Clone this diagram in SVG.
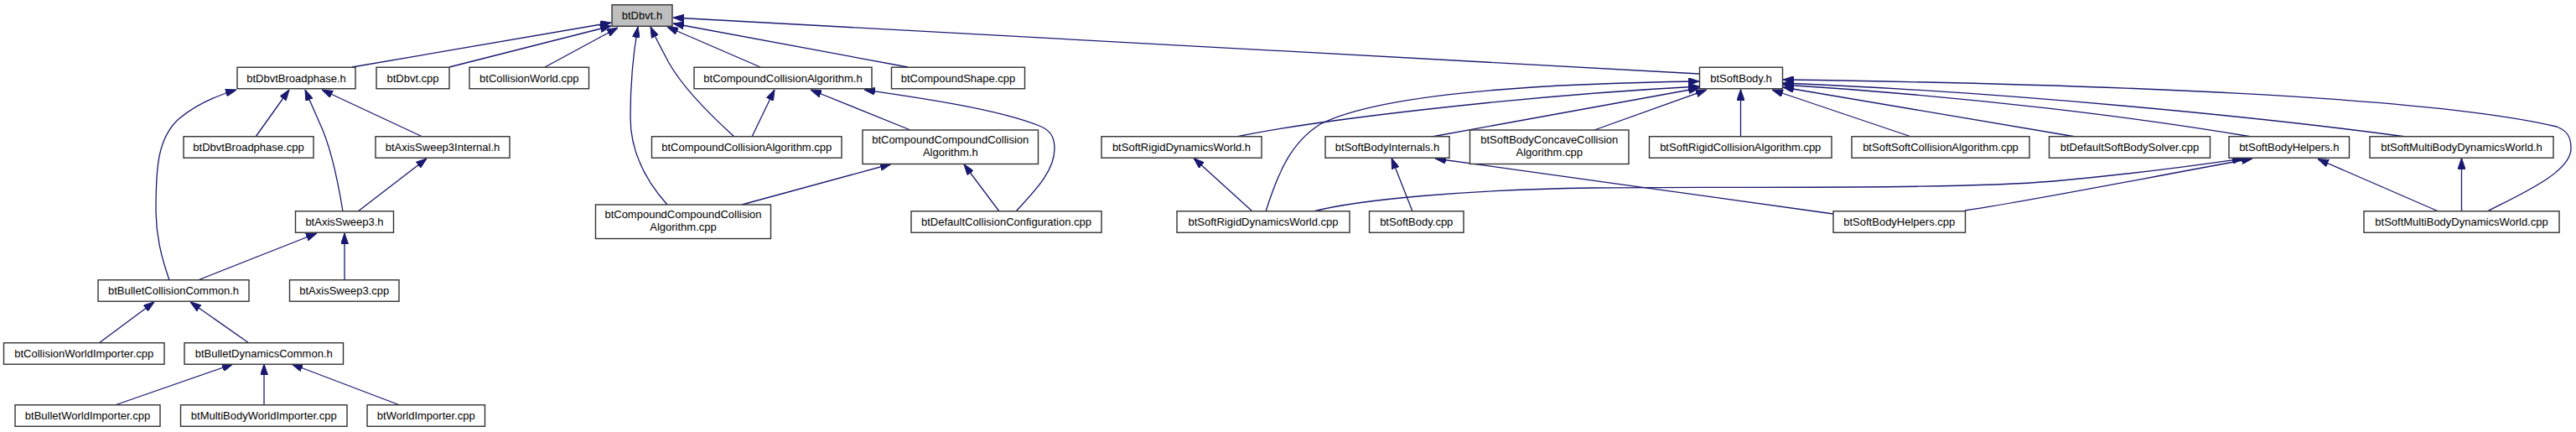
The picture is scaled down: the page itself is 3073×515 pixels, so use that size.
<svg xmlns="http://www.w3.org/2000/svg" width="3073" height="515" viewBox="0 0 3073 515">
<style>
.nd rect{fill:#ffffff;stroke:#333333;stroke-width:1.4}
.nd.root rect{fill:#bfbfbf}
.nd text{font-family:"Liberation Sans",Arial,Helvetica,sans-serif;font-size:13px;fill:#000000;text-anchor:middle}
#edges path{fill:none;stroke:#191970;stroke-width:1.3;marker-end:url(#ah)}
</style>
<defs>
<marker id="ah" markerUnits="userSpaceOnUse" markerWidth="13" markerHeight="9" refX="13" refY="4.5" orient="auto">
<path d="M0,0 L13,4.5 L0,9 z" fill="#191970" stroke="#191970" stroke-width="1"/>
</marker>
</defs>
<rect x="0" y="0" width="3073" height="515" fill="#ffffff"/>
<g id="edges">
<path d="M420,80 L729,27"/>
<path d="M536,80 L729,31"/>
<path d="M650,80 L737,33"/>
<path d="M796,244 C770,215 752,180 752,140 C752,90 756,60 761,32"/>
<path d="M876,163 C845,135 815,105 798,75 C790,60 782,45 776,32"/>
<path d="M907,80 L796,32"/>
<path d="M1083,80 L803,28"/>
<path d="M2027,88 L803,21"/>
<path d="M305,163 L345,107"/>
<path d="M409,252 C403,215 395,175 381,146 C375,132 369,119 364,107"/>
<path d="M504,163 L384,107"/>
<path d="M202,334 C192,305 186,280 186,250 C186,200 188,165 213,142 C233,125 255,115 282,107"/>
<path d="M427,252 L509,189"/>
<path d="M236,334 L378,278"/>
<path d="M411,334 L411,278"/>
<path d="M118,409 L184,360"/>
<path d="M297,409 L227,360"/>
<path d="M137,483 L278,434"/>
<path d="M315,483 L315,434"/>
<path d="M477,483 L348,434"/>
<path d="M897,163 L924,107"/>
<path d="M1086,155 L967,107"/>
<path d="M1212,252 C1232,230 1258,205 1258,177 C1258,162 1252,155 1240,150 C1190,130 1100,117 1031,107"/>
<path d="M885,244 L1063,195.5"/>
<path d="M1192,252 L1150,196"/>
<path d="M1475,163 C1560,145 1800,115 2027,103"/>
<path d="M1510,252 C1525,205 1540,170 1575,148 C1640,115 1800,100 2027,97"/>
<path d="M1708,163 L2027,105"/>
<path d="M1902,155 L2036,107"/>
<path d="M2076.5,163 L2076.5,106.5"/>
<path d="M2280,163 L2114,107"/>
<path d="M2476,163 L2127,104"/>
<path d="M2686,163 C2550,140 2350,115 2127,101"/>
<path d="M2870,163 C2700,140 2400,110 2127,99"/>
<path d="M2967,252 C3010,230 3067,205 3067,177 C3067,162 3062,156 3050,151 C2900,115 2500,100 2127,95"/>
<path d="M1494,252 L1424,188.5"/>
<path d="M1685,252 L1660,188.5"/>
<path d="M2187,255 C2100,243 1850,208 1712,189"/>
<path d="M1567,252 C1620,238 1750,226 1900,224 C2100,222 2330,226 2450,216 C2560,206 2620,197 2676,189"/>
<path d="M2344,251 C2420,240 2560,212 2687,189"/>
<path d="M2909,252 L2765,189.5"/>
<path d="M2936.5,252 L2936.5,188.5"/>
</g>
<g id="n_btDbvt_h" class="nd root"><rect x="730" y="5.75" width="72" height="25.5"/><text x="766" y="23">btDbvt.h</text></g>
<g id="n_btDbvtBroadphase_h" class="nd"><rect x="283" y="80.25" width="141" height="25.5"/><text x="353.5" y="97.6">btDbvtBroadphase.h</text></g>
<g id="n_btDbvt_cpp" class="nd"><rect x="449" y="80.25" width="87" height="25.5"/><text x="492.5" y="97.6">btDbvt.cpp</text></g>
<g id="n_btCollisionWorld_cpp" class="nd"><rect x="560" y="80.25" width="142.5" height="25.5"/><text x="631.25" y="97.6">btCollisionWorld.cpp</text></g>
<g id="n_btCompoundCollisionAlgorithm_h" class="nd"><rect x="828" y="80.25" width="212" height="25.5"/><text x="934" y="97.6">btCompoundCollisionAlgorithm.h</text></g>
<g id="n_btCompoundShape_cpp" class="nd"><rect x="1063.5" y="80.25" width="159" height="25.5"/><text x="1143" y="97.6">btCompoundShape.cpp</text></g>
<g id="n_btSoftBody_h" class="nd"><rect x="2027.5" y="80.25" width="99" height="25.5"/><text x="2077" y="97.6">btSoftBody.h</text></g>
<g id="n_btDbvtBroadphase_cpp" class="nd"><rect x="219" y="162.75" width="155" height="25.5"/><text x="296.5" y="180">btDbvtBroadphase.cpp</text></g>
<g id="n_btAxisSweep3Internal_h" class="nd"><rect x="448" y="162.75" width="160" height="25.5"/><text x="528" y="180">btAxisSweep3Internal.h</text></g>
<g id="n_btCompoundCollisionAlgorithm_cpp" class="nd"><rect x="777.5" y="162.75" width="226.5" height="25.5"/><text x="890.75" y="180">btCompoundCollisionAlgorithm.cpp</text></g>
<g id="n_btCompoundCompoundCollisionAlgorithm_h" class="nd"><rect x="1029" y="155" width="209.5" height="40.5"/><text x="1133.75" y="171.3">btCompoundCompoundCollision</text><text x="1133.75" y="186.3">Algorithm.h</text></g>
<g id="n_btSoftRigidDynamicsWorld_h" class="nd"><rect x="1314" y="162.75" width="191" height="25.5"/><text x="1409.5" y="180">btSoftRigidDynamicsWorld.h</text></g>
<g id="n_btSoftBodyInternals_h" class="nd"><rect x="1581" y="162.75" width="148" height="25.5"/><text x="1655" y="180">btSoftBodyInternals.h</text></g>
<g id="n_btSoftBodyConcaveCollisionAlgorithm_cpp" class="nd"><rect x="1753.5" y="155" width="189.5" height="40.5"/><text x="1848.25" y="171.3">btSoftBodyConcaveCollision</text><text x="1848.25" y="186.3">Algorithm.cpp</text></g>
<g id="n_btSoftRigidCollisionAlgorithm_cpp" class="nd"><rect x="1967.5" y="162.75" width="217.5" height="25.5"/><text x="2076.25" y="180">btSoftRigidCollisionAlgorithm.cpp</text></g>
<g id="n_btSoftSoftCollisionAlgorithm_cpp" class="nd"><rect x="2209" y="162.75" width="212" height="25.5"/><text x="2315" y="180">btSoftSoftCollisionAlgorithm.cpp</text></g>
<g id="n_btDefaultSoftBodySolver_cpp" class="nd"><rect x="2444.5" y="162.75" width="192" height="25.5"/><text x="2540.5" y="180">btDefaultSoftBodySolver.cpp</text></g>
<g id="n_btSoftBodyHelpers_h" class="nd"><rect x="2659" y="162.75" width="143.5" height="25.5"/><text x="2730.75" y="180">btSoftBodyHelpers.h</text></g>
<g id="n_btSoftMultiBodyDynamicsWorld_h" class="nd"><rect x="2827" y="162.75" width="219" height="25.5"/><text x="2936.5" y="180">btSoftMultiBodyDynamicsWorld.h</text></g>
<g id="n_btAxisSweep3_h" class="nd"><rect x="352.5" y="251.75" width="117" height="25.5"/><text x="411" y="269">btAxisSweep3.h</text></g>
<g id="n_btCompoundCompoundCollisionAlgorithm_cpp" class="nd"><rect x="710.5" y="244" width="209" height="40.5"/><text x="815" y="260.3">btCompoundCompoundCollision</text><text x="815" y="275.3">Algorithm.cpp</text></g>
<g id="n_btDefaultCollisionConfiguration_cpp" class="nd"><rect x="1087" y="251.75" width="227" height="25.5"/><text x="1200.5" y="269">btDefaultCollisionConfiguration.cpp</text></g>
<g id="n_btSoftRigidDynamicsWorld_cpp" class="nd"><rect x="1404" y="251.75" width="206" height="25.5"/><text x="1507" y="269">btSoftRigidDynamicsWorld.cpp</text></g>
<g id="n_btSoftBody_cpp" class="nd"><rect x="1633.5" y="251.75" width="112.5" height="25.5"/><text x="1689.75" y="269">btSoftBody.cpp</text></g>
<g id="n_btSoftBodyHelpers_cpp" class="nd"><rect x="2187" y="251.75" width="157.5" height="25.5"/><text x="2265.75" y="269">btSoftBodyHelpers.cpp</text></g>
<g id="n_btSoftMultiBodyDynamicsWorld_cpp" class="nd"><rect x="2820" y="251.75" width="233" height="25.5"/><text x="2936.5" y="269">btSoftMultiBodyDynamicsWorld.cpp</text></g>
<g id="n_btBulletCollisionCommon_h" class="nd"><rect x="117" y="333.75" width="180" height="25.5"/><text x="207" y="351">btBulletCollisionCommon.h</text></g>
<g id="n_btAxisSweep3_cpp" class="nd"><rect x="345.5" y="333.75" width="130.5" height="25.5"/><text x="410.75" y="351">btAxisSweep3.cpp</text></g>
<g id="n_btCollisionWorldImporter_cpp" class="nd"><rect x="4.5" y="408.75" width="191.5" height="25.5"/><text x="100.25" y="426">btCollisionWorldImporter.cpp</text></g>
<g id="n_btBulletDynamicsCommon_h" class="nd"><rect x="220" y="408.75" width="189.5" height="25.5"/><text x="314.75" y="426">btBulletDynamicsCommon.h</text></g>
<g id="n_btBulletWorldImporter_cpp" class="nd"><rect x="18" y="482.75" width="173" height="25.5"/><text x="104.5" y="500">btBulletWorldImporter.cpp</text></g>
<g id="n_btMultiBodyWorldImporter_cpp" class="nd"><rect x="215.5" y="482.75" width="198.5" height="25.5"/><text x="314.75" y="500">btMultiBodyWorldImporter.cpp</text></g>
<g id="n_btWorldImporter_cpp" class="nd"><rect x="438" y="482.75" width="140.5" height="25.5"/><text x="508.25" y="500">btWorldImporter.cpp</text></g>
</svg>
